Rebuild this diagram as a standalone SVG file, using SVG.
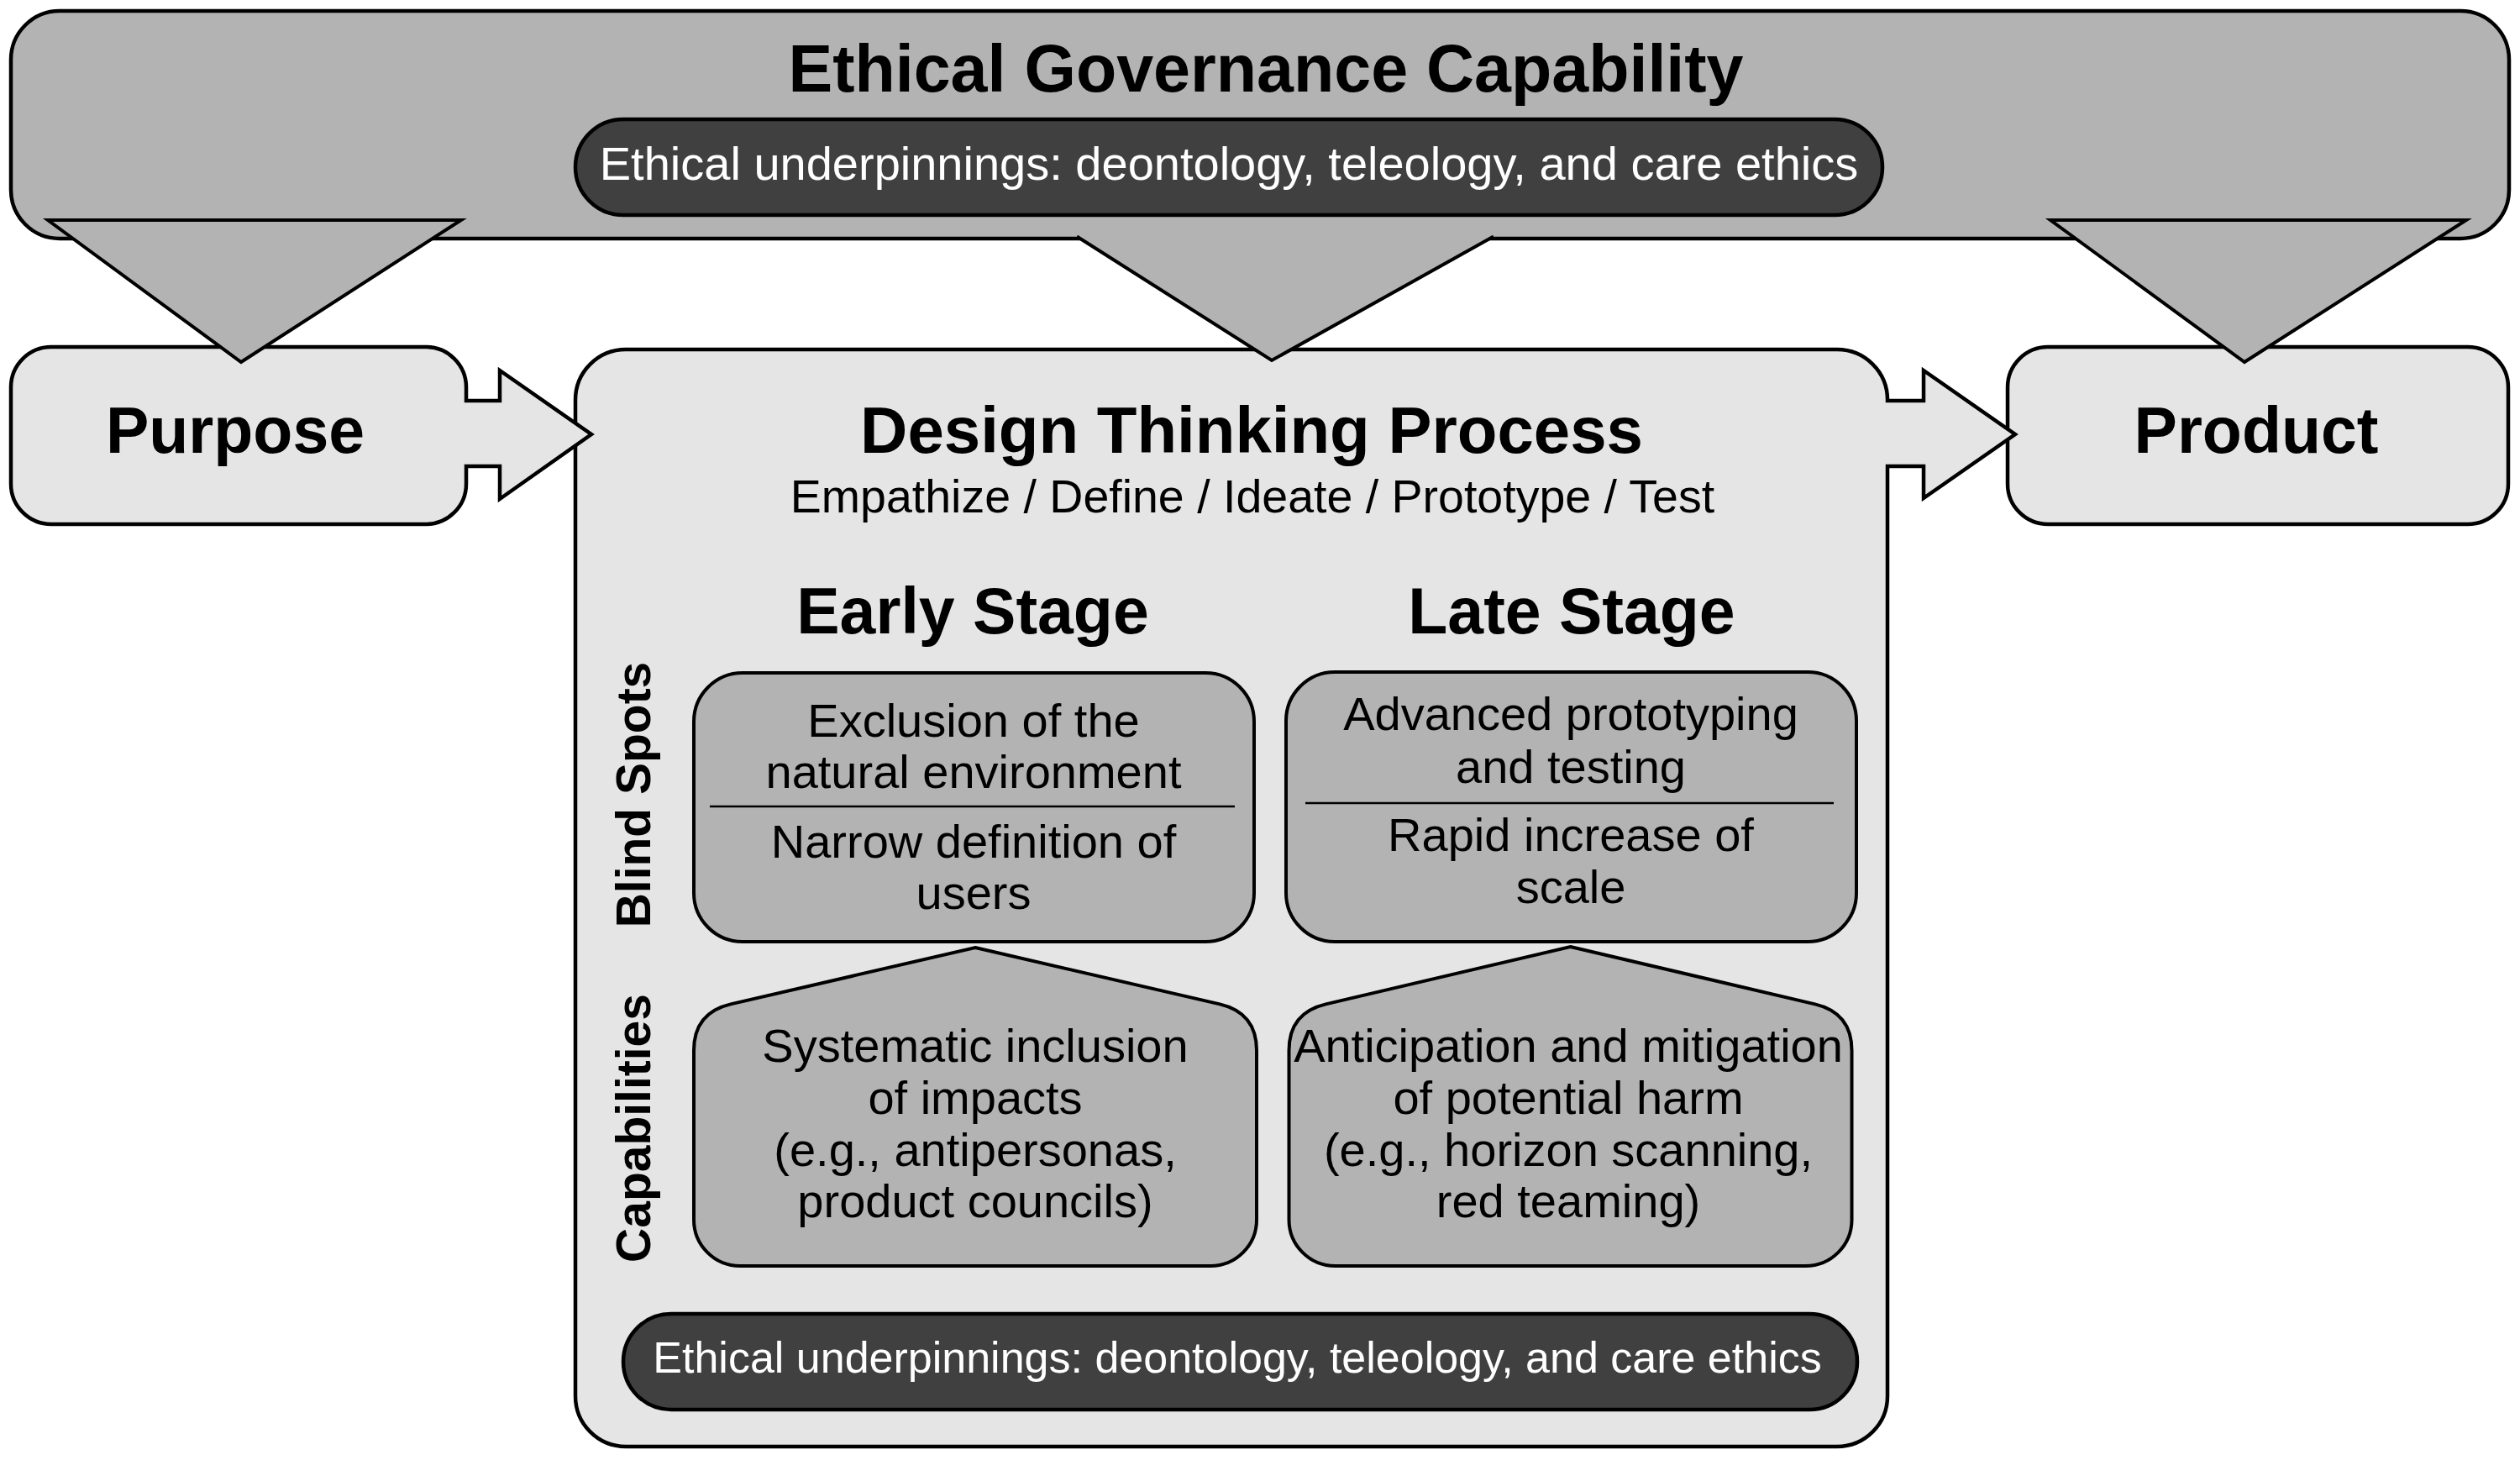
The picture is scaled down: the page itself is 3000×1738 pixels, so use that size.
<svg xmlns="http://www.w3.org/2000/svg" width="3000" height="1738" viewBox="0 0 3000 1738">
<style>
text{font-family:"Liberation Sans",Arial,Helvetica,sans-serif;text-anchor:middle;fill:#000}
.b{font-weight:bold}
.w{fill:#fff}
.mid{fill:#b3b3b3;stroke:#000;stroke-width:4}
.light{fill:#e5e5e5;stroke:#000;stroke-width:4.5}
.pill{fill:#404040;stroke:#000;stroke-width:4.5}
.big{fill:#b3b3b3;stroke:#000;stroke-width:4.5}
.div{stroke:#000;stroke-width:2.5}
.f56{font-size:56px}
.f77{font-size:77px}
</style>
<rect width="3000" height="1738" fill="#fff"/>

<g id="ethical-governance">
  <rect class="big" x="13" y="13" width="2974" height="271" rx="58" ry="58"/>
  <text class="b" x="1507" y="109" font-size="79">Ethical Governance Capability</text>
  <g id="top-underpinnings">
    <rect class="pill" x="685" y="142" width="1556" height="114" rx="57" ry="57"/>
    <text class="w f56" x="1463" y="214">Ethical underpinnings: deontology, teleology, and care ethics</text>
  </g>
</g>

<g id="product">
  <rect class="light" x="2390" y="413" width="596" height="211" rx="48" ry="48"/>
  <text class="b f77" x="2686" y="539">Product</text>
</g>

<g id="design-thinking">
  <path class="light" d="M745,416 H2187 A60,60 0 0 1 2247,476 V477 H2290 V441 L2399,517 L2290,593 V555 H2247 V1662 A60,60 0 0 1 2187,1722 H745 A60,60 0 0 1 685,1662 V476 A60,60 0 0 1 745,416 Z"/>
  <text class="b" x="1490" y="539" font-size="78">Design Thinking Process</text>
  <text x="1491" y="610" font-size="55.5">Empathize / Define / Ideate / Prototype / Test</text>
  <text class="b f77" x="1158" y="754">Early Stage</text>
  <text class="b f77" x="1871" y="754">Late Stage</text>
  <text class="b" font-size="57" transform="translate(774,946) rotate(-90)" x="0" y="0">Blind Spots</text>
  <text class="b" font-size="57" transform="translate(774,1343) rotate(-90)" x="0" y="0">Capabilities</text>

  <g id="early-blind-spots">
    <rect class="mid" x="826" y="801" width="667" height="320" rx="58" ry="58"/>
    <line class="div" x1="845" y1="960" x2="1470" y2="960"/>
    <text class="f56" x="1159" y="877">Exclusion of the</text>
    <text class="f56" x="1159" y="938">natural environment</text>
    <text class="f56" x="1159" y="1021">Narrow definition of</text>
    <text class="f56" x="1159" y="1082">users</text>
  </g>

  <g id="late-blind-spots">
    <rect class="mid" x="1531" y="800" width="679" height="321" rx="58" ry="58"/>
    <line class="div" x1="1554" y1="956" x2="2183" y2="956"/>
    <text class="f56" x="1870" y="869">Advanced prototyping</text>
    <text class="f56" x="1870" y="932">and testing</text>
    <text class="f56" x="1870" y="1013">Rapid increase of</text>
    <text class="f56" x="1870" y="1075">scale</text>
  </g>

  <g id="early-capabilities">
    <path class="mid" d="M1161,1128 L1452.2,1195.4 Q1496,1205.6 1496,1250.6 V1452 A55,55 0 0 1 1441,1507 H881 A55,55 0 0 1 826,1452 V1250.6 Q826,1205.6 869.8,1195.4 Z"/>
    <text class="f56" x="1161" y="1264">Systematic inclusion</text>
    <text class="f56" x="1161" y="1326">of impacts</text>
    <text class="f56" x="1161" y="1388">(e.g., antipersonas,</text>
    <text class="f56" x="1161" y="1449">product councils)</text>
  </g>

  <g id="late-capabilities">
    <path class="mid" d="M1869.5,1127 L2160.7,1195.4 Q2204.5,1205.6 2204.5,1250.6 V1452 A55,55 0 0 1 2149.5,1507 H1589.5 A55,55 0 0 1 1534.5,1452 V1250.6 Q1534.5,1205.6 1578.3,1195.4 Z"/>
    <text class="f56" x="1867" y="1264">Anticipation and mitigation</text>
    <text class="f56" x="1867" y="1326">of potential harm</text>
    <text class="f56" x="1867" y="1388">(e.g., horizon scanning,</text>
    <text class="f56" x="1867" y="1449">red teaming)</text>
  </g>

  <g id="bottom-underpinnings">
    <rect class="pill" x="742" y="1564" width="1469" height="114" rx="57" ry="57"/>
    <text class="w" x="1473" y="1634" font-size="52">Ethical underpinnings: deontology, teleology, and care ethics</text>
  </g>
</g>

<g id="purpose">
  <path class="light" d="M61,413 H507 A48,48 0 0 1 555,461 V477 H595 V441 L704,517 L595,594 V555 H555 V576 A48,48 0 0 1 507,624 H61 A48,48 0 0 1 13,576 V461 A48,48 0 0 1 61,413 Z"/>
  <text class="b f77" x="280" y="539">Purpose</text>
</g>

<g id="connectors">
  <polygon class="mid" points="57,262 549,262 287,431"/>
  <polygon points="1273,276 1788,276 1514,429" fill="#b3b3b3"/>
  <polyline points="1282,281.5 1514,429 1778,281.5" fill="none" stroke="#000" stroke-width="4"/>
  <polygon class="mid" points="2441,262 2936,262 2672,431"/>
</g>
</svg>
